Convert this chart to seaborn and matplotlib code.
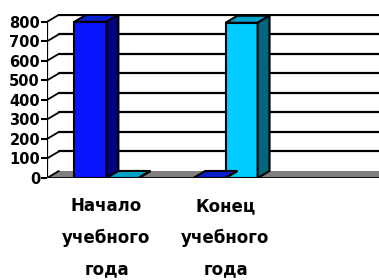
import pandas as pd
import seaborn as sns
import matplotlib.pyplot as plt
from matplotlib.patches import Polygon

periods = ["Начало\nучебного\nгода", "Конец\nучебного\nгода"]
series = ["Ряд 1", "Ряд 2"]
values_1 = [800, 0]
values_2 = [0, 795]

front = ["#0A14FF", "#00CCFF"]
top = ["#0A1ECC", "#00A0C8"]
side = ["#000080", "#006680"]

df = pd.DataFrame({
    "period": periods * 2,
    "series": [series[0]] * 2 + [series[1]] * 2,
    "value": values_1 + values_2,
})

sns.set_style("white")
plt.rcParams["font.family"] = ["DejaVu Sans"]
plt.rcParams["text.color"] = "black"
plt.rcParams["xtick.color"] = "black"
plt.rcParams["ytick.color"] = "black"

fig = plt.figure(figsize=(3.79, 2.8), dpi=100)
ax = fig.add_axes([47 / 379, 102 / 280, 357 / 379, 164 / 280])

sns.barplot(data=df, x="period", y="value", hue="series", order=periods,
            palette=front, saturation=1, width=0.54, edgecolor="black",
            linewidth=1.5, legend=False, ax=ax, zorder=3)

dx, dy = 0.1, 36
x0, x1 = -0.5, 2.5
ticks = list(range(0, 801, 100))

# floor
ax.add_patch(Polygon([(x0, 0), (x1 + 1, 0), (x1 + 1, dy), (x0 + dx, dy)],
                     closed=True, facecolor="#808080", edgecolor="none", zorder=1))
# back wall gridlines and left slants
for v in ticks[1:]:
    ax.plot([x0 + dx, x1 + 1], [v + dy, v + dy], color="black", lw=1.6, zorder=0)
for v in ticks:
    ax.plot([x0, x0 + dx], [v, v + dy], color="black", lw=1.3, zorder=2)
ax.plot([x0, x0], [0, 800], color="black", lw=1.6, zorder=4)
ax.plot([x0, x1], [0, 0], color="black", lw=2, zorder=4)

# 3d faces of the bars
for i, cont in enumerate(ax.containers):
    for p in cont.patches:
        bx, bw, bh = p.get_x(), p.get_width(), p.get_height()
        ax.add_patch(Polygon([(bx, bh), (bx + bw, bh), (bx + bw + dx, bh + dy), (bx + dx, bh + dy)],
                             closed=True, facecolor=top[i], edgecolor="black", lw=1.5, zorder=3))
        ax.add_patch(Polygon([(bx + bw, 0), (bx + bw, bh), (bx + bw + dx, bh + dy), (bx + bw + dx, dy)],
                             closed=True, facecolor=side[i], edgecolor="black", lw=1.5, zorder=3))

ax.set_xlim(x0, x1)
ax.set_ylim(0, 800 + dy + 4)
ax.set_yticks(ticks)
ax.set_yticklabels([str(t) for t in ticks], fontweight="bold", fontsize=10.5)
ax.set_xticks([0, 1])
ax.set_xticklabels(periods, fontweight="bold", fontsize=12, linespacing=1.95)
ax.set_xticks([0.5, 1.5], minor=True)
ax.tick_params(axis="x", which="major", length=0, pad=14)
ax.tick_params(axis="x", which="minor", length=4, width=1.5, direction="out")
ax.tick_params(axis="y", length=4, width=1.5, direction="out", pad=1, left=True)
ax.set_xlabel("")
ax.set_ylabel("")
for s in ax.spines.values():
    s.set_visible(False)
ax.set_facecolor("white")

fig.savefig("out.png", dpi=100)
